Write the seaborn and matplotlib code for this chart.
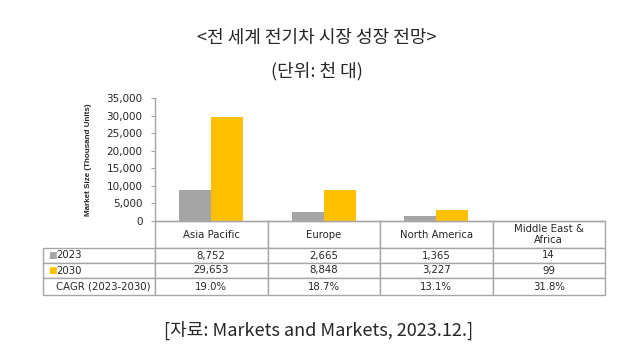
import pandas as pd
import seaborn as sns
import matplotlib.pyplot as plt
from matplotlib.ticker import StrMethodFormatter

# data
regions = ['Asia Pacific', 'Europe', 'North America', 'Middle East &\nAfrica']
units_2023 = [8752, 2665, 1365, 14]
units_2030 = [29653, 8848, 3227, 99]
cagr = ['19.0%', '18.7%', '13.1%', '31.8%']
years = ['2023', '2030']
colors = {'2023': '#A5A5A5', '2030': '#FFC000'}

df = pd.DataFrame({
    'region': regions * 2,
    'year': [years[0]] * 4 + [years[1]] * 4,
    'units': units_2023 + units_2030,
})

sns.set_style('white')
plt.rcParams['font.family'] = ['DejaVu Sans']
grid_col = '#A6A6A6'

W, H = 630, 359
AX_W, AX_H = 450, 123
fig = plt.figure(figsize=(W / 100, H / 100), dpi=100)
ax = fig.add_axes([155 / W, 1 - 221 / H, AX_W / W, AX_H / H])

sns.barplot(data=df, x='region', y='units', hue='year', palette=colors,
            width=0.57, saturation=1, legend=False, ax=ax, linewidth=0)

ax.set_xlim(-0.5, 3.5)
ax.set_ylim(0, 35000)
ax.set_yticks(range(0, 35001, 5000))
ax.yaxis.set_major_formatter(StrMethodFormatter('{x:,.0f}'))
ax.tick_params(axis='y', labelsize=7.5, length=3, color=grid_col, pad=6, left=True)
ax.tick_params(axis='x', bottom=False, labelbottom=False)
ax.set_xlabel('')
ax.set_ylabel('Market Size (Thousand Units)', fontsize=5.8, fontweight='bold',
              family=['Liberation Sans', 'DejaVu Sans'])
ax.yaxis.set_label_coords((92 - 155) / AX_W, 0.5)
for s in ['top', 'right']:
    ax.spines[s].set_visible(False)
for s in ['left', 'bottom']:
    ax.spines[s].set_color(grid_col)
    ax.spines[s].set_linewidth(1)

# data table under the bars; one column per category, labels column to the left
cell_text = [[f'{v:,}' for v in units_2023],
             [f'{v:,}' for v in units_2030],
             cagr]
row_labels = years + ['CAGR (2023-2030)']
row_h = [27, 15, 15, 17]
tab_h = sum(row_h) / AX_H
tab = ax.table(cellText=cell_text, rowLabels=row_labels, colLabels=regions,
               cellLoc='center', rowLoc='left',
               bbox=[0, -tab_h, 1, tab_h])
tab._autoColumns.clear()  # keep the label column the same width as the others
tab.auto_set_font_size(False)
tab.set_fontsize(7.3)
for (r, c), cell in tab.get_celld().items():
    cell.set_edgecolor(grid_col)
    cell.set_linewidth(1)
    cell.set_height(row_h[r] / AX_H)
    cell.set_width(1 / len(regions))
    if c == -1:
        cell.PAD = 0.12

# colour keys in front of the year labels
for i, yr in enumerate(years):
    y_mid = -(row_h[0] + row_h[1] * i + row_h[1] / 2) / AX_H
    ax.text((48 - 155) / AX_W, y_mid, '■', color=colors[yr], fontsize=6.5,
            transform=ax.transAxes, ha='left', va='center')

kr = ['Noto Sans CJK KR', 'DejaVu Sans']
fig.text(317 / W, 1 - 38 / H, '<전 세계 전기차 시장 성장 전망>', family=kr,
         fontsize=13, ha='center', va='center')
fig.text(317 / W, 1 - 71 / H, '(단위: 천 대)', family=kr,
         fontsize=13, ha='center', va='center')
fig.text(319 / W, 1 - 330 / H, '[자료: Markets and Markets, 2023.12.]', family=kr,
         fontsize=13, ha='center', va='center')

fig.savefig('out.png', dpi=100)
